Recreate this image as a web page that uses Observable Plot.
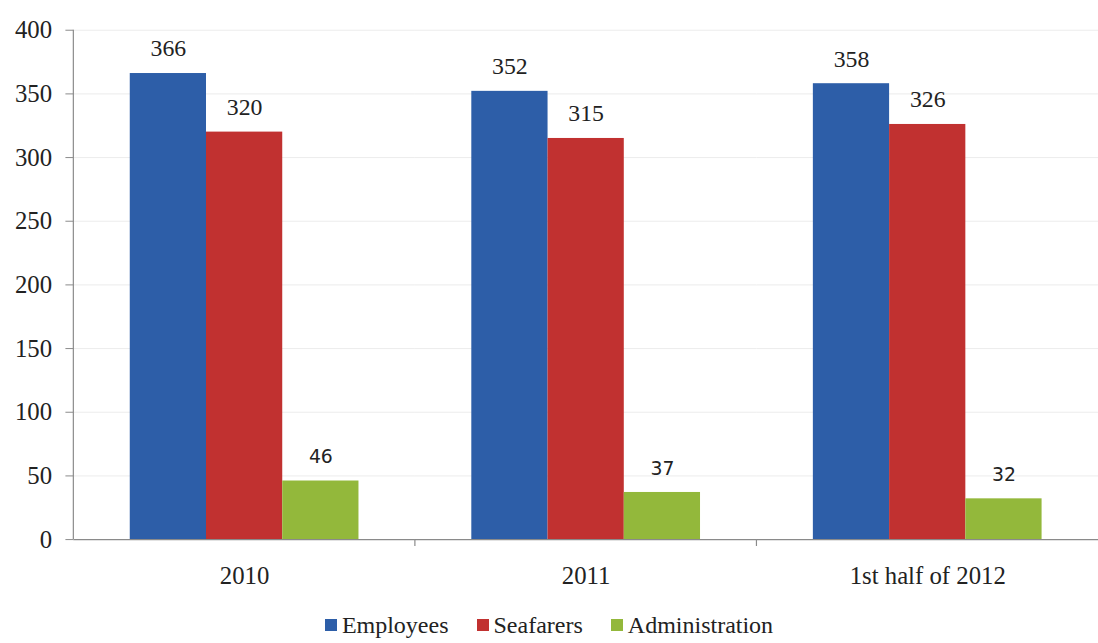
<!DOCTYPE html>
<html><head><meta charset="utf-8">
<script src="https://cdn.jsdelivr.net/npm/d3@7"></script>
<script src="https://cdn.jsdelivr.net/npm/@observablehq/plot@0.6"></script>
<style>
html,body{margin:0;padding:0;overflow:hidden;background:#fff;width:1098px;height:643px}
#legend{display:flex;justify-content:center;align-items:center;width:1098px;height:43px;padding-top:9px;font-family:Liberation Serif,Times New Roman,serif;font-size:24px;color:#222}
.item{display:flex;align-items:center;margin:0 14px}
.sw{width:12px;height:12px;margin-right:5px}
</style></head><body><div id="chart"></div><div id="legend"></div>
<script>
const years = ["2010", "2011", "1st half of 2012"];
const series = ["Employees", "Seafarers", "Administration"];
const employees = [366, 352, 358];
const seafarers = [320, 315, 326];
const administration = [46, 37, 32];
const colors = ["#2d5ea8", "#c13130", "#93b83b"];
const yTicks = [0, 50, 100, 150, 200, 250, 300, 350, 400];

const SERIF = "Liberation Serif, Times New Roman, serif";
const SANS = "DejaVu Sans, sans-serif";

const valuesBySeries = [employees, seafarers, administration];
const rows = [];
years.forEach((yr, i) => series.forEach((s, j) => rows.push({year: yr, series: s, value: valuesBySeries[j][i]})));

const chart = Plot.plot({
  width: 1108, height: 600,
  marginLeft: 74, marginRight: 0, marginTop: 30, marginBottom: 56,
  style: {fontFamily: SERIF, fontSize: "25px", color: "#222", background: "#fff", overflow: "visible"},
  fx: {domain: years, padding: 0, round: false, label: null},
  x: {domain: series, paddingInner: 0, paddingOuter: 0.74, round: false, axis: null},
  y: {domain: [0, 400], label: null},
  color: {domain: series, range: colors},
  marks: [
    Plot.ruleY(yTicks.slice(1), {stroke: "#ececec", strokeWidth: 1}),
    Plot.barY(rows, {fx: "year", x: "series", y: "value", fill: "series"}),
    Plot.ruleY([0], {stroke: "#8a8a8a", strokeWidth: 1.2}),
    Plot.axisY(yTicks, {tickSize: 8, tickPadding: 14, fontSize: 25, fontFamily: SERIF, stroke: "#8a8a8a", fill: "#222", label: null}),
    Plot.axisFx({anchor: "bottom", tickSize: 0, tickPadding: 27, fontSize: 25, fontFamily: SERIF, fill: "#222", label: null}),
    Plot.text(rows.filter(d => d.series !== "Administration"), {fx: "year", x: "series", y: "value", text: "value", dy: -25, fontSize: 24, fontFamily: SERIF, fill: "#222", lineAnchor: "middle"}),
    Plot.text(rows.filter(d => d.series === "Administration"), {fx: "year", x: "series", y: "value", text: "value", dy: -24, fontSize: 19, fontFamily: SANS, fill: "#222", lineAnchor: "middle"})
  ]
});
document.getElementById("chart").appendChild(chart);

const fx = chart.scale("fx"), y = chart.scale("y");
const svg = d3.select(chart);
const g = svg.append("g").attr("stroke", "#8a8a8a").attr("stroke-width", 1.2);
g.append("line")
  .attr("x1", fx.apply(years[0])).attr("x2", fx.apply(years[0]))
  .attr("y1", y.apply(yTicks[yTicks.length - 1])).attr("y2", y.apply(0));
years.slice(1).forEach(yr => {
  g.append("line").attr("x1", fx.apply(yr)).attr("x2", fx.apply(yr))
    .attr("y1", y.apply(0)).attr("y2", y.apply(0) + 7);
});

const legend = document.getElementById("legend");
series.forEach((s, i) => {
  const item = document.createElement("div");
  item.className = "item";
  const sw = document.createElement("span");
  sw.className = "sw";
  sw.style.background = colors[i];
  const t = document.createElement("span");
  t.textContent = s;
  item.appendChild(sw); item.appendChild(t);
  legend.appendChild(item);
});
</script></body></html>
